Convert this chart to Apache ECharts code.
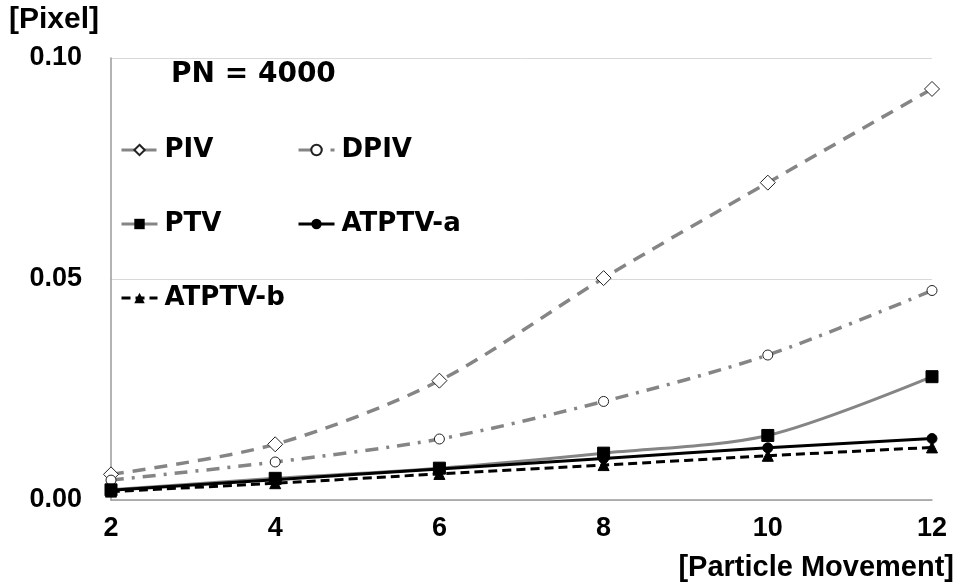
<!DOCTYPE html>
<html>
<head>
<meta charset="utf-8">
<script src="https://cdn.jsdelivr.net/npm/echarts@6/dist/echarts.min.js"></script>
<style>
  html, body { margin: 0; padding: 0; background: #fff; }
  #chart { width: 963px; height: 588px; }
</style>
</head>
<body>
<div id="chart"></div>
<script>
// Particle movement (pixels) on the x axis
const movement = [2, 4, 6, 8, 10, 12];
// Error in pixels for each method, PN = 4000
const piv    = [0.0058, 0.0126, 0.0270, 0.0502, 0.0718, 0.0930];
const dpiv   = [0.0045, 0.0086, 0.0138, 0.0223, 0.0328, 0.0474];
const ptv    = [0.0023, 0.0049, 0.0072, 0.0106, 0.0146, 0.0279];
const atptvA = [0.0022, 0.0046, 0.0070, 0.0094, 0.0118, 0.0139];
const atptvB = [0.0019, 0.0038, 0.0059, 0.0079, 0.0100, 0.0119];
const yTicks = [0, 0.05, 0.10];

const pairs = ys => movement.map((x, i) => [x, ys[i]]);
const GRAY = '#858585';

const chart = echarts.init(document.getElementById('chart'), null, { renderer: 'canvas' });

const legendText = {
  fontFamily: 'DejaVu Sans', fontWeight: 'bold', fontSize: 26, color: '#000',
  lineHeight: 28, padding: [0, 0, 0, 2]
};
const mkLegend = (name, left, top) => ({
  data: [name], left: left, top: top, orient: 'horizontal',
  itemWidth: 36, itemHeight: 13, selectedMode: false,
  lineStyle: { width: 3 },
  textStyle: legendText, padding: 0
});

chart.setOption({
  animation: false,
  backgroundColor: '#fff',
  grid: { left: 111, right: 31, top: 58, bottom: 88, containLabel: false },
  xAxis: {
    type: 'value', min: 2, max: 12, interval: 2,
    axisLine: { show: true, lineStyle: { color: '#9a9a9a', width: 1.5 } },
    axisTick: { show: false },
    splitLine: { show: false },
    axisLabel: {
      margin: 15, color: '#000',
      fontFamily: 'Liberation Sans', fontWeight: 'bold', fontSize: 27
    }
  },
  yAxis: {
    type: 'value', min: yTicks[0], max: yTicks[yTicks.length - 1], interval: 0.05,
    axisLine: { show: true, lineStyle: { color: '#9a9a9a', width: 1.5 } },
    axisTick: { show: false },
    splitLine: { show: true, lineStyle: { color: '#d9d9d9', width: 1 } },
    axisLabel: {
      margin: 29, color: '#000',
      fontFamily: 'Liberation Sans', fontWeight: 'bold', fontSize: 27,
      formatter: v => v.toFixed(2)
    }
  },
  legend: [
    mkLegend('PIV', 120, 136),
    mkLegend('DPIV', 297, 136),
    mkLegend('PTV', 120, 210),
    mkLegend('ATPTV-a', 297, 210),
    mkLegend('ATPTV-b', 120, 284)
  ],
  graphic: [
    { type: 'text', left: 9, top: 5,
      style: { text: '[Pixel]', fontFamily: 'Liberation Sans', fontWeight: 'bold', fontSize: 30, fill: '#000' } },
    { type: 'text', right: 9, top: 553,
      style: { text: '[Particle Movement]', fontFamily: 'Liberation Sans', fontWeight: 'bold', fontSize: 29, fill: '#000' } },
    { type: 'text', left: 171, top: 61,
      style: { text: 'PN = 4000', fontFamily: 'DejaVu Sans', fontWeight: 'bold', fontSize: 28, fill: '#000' } }
  ],
  series: [
    {
      name: 'PIV', type: 'line', data: pairs(piv), smooth: 0.3,
      symbol: 'diamond', symbolSize: 15,
      lineStyle: { color: GRAY, width: 3.5, type: [13, 9] },
      itemStyle: { color: '#fff', borderColor: '#222', borderWidth: 1 },
      z: 2
    },
    {
      name: 'DPIV', type: 'line', data: pairs(dpiv), smooth: 0.3,
      symbol: 'circle', symbolSize: 10,
      lineStyle: { color: GRAY, width: 3.5, type: [13, 8, 3, 8] },
      itemStyle: { color: '#fff', borderColor: '#222', borderWidth: 1 },
      z: 2
    },
    {
      name: 'PTV', type: 'line', data: pairs(ptv), smooth: 0.3,
      symbol: 'rect', symbolSize: 12,
      lineStyle: { color: GRAY, width: 3, type: 'solid' },
      itemStyle: { color: '#000', borderColor: '#000' },
      z: 3
    },
    {
      name: 'ATPTV-a', type: 'line', data: pairs(atptvA), smooth: 0.3,
      symbol: 'circle', symbolSize: 10,
      lineStyle: { color: '#000', width: 3, type: 'solid' },
      itemStyle: { color: '#000', borderColor: '#000' },
      z: 4
    },
    {
      name: 'ATPTV-b', type: 'line', data: pairs(atptvB), smooth: 0.3,
      symbol: 'triangle', symbolSize: 11,
      lineStyle: { color: '#000', width: 3, type: [9, 5] },
      itemStyle: { color: '#000', borderColor: '#000' },
      z: 4
    }
  ]
});
</script>
</body>
</html>
